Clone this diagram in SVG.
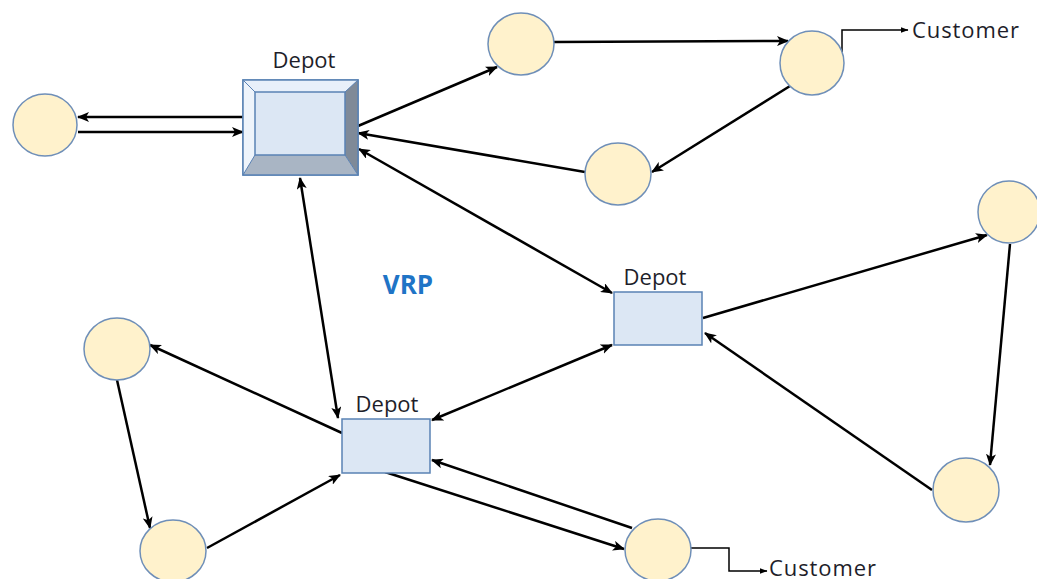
<svg xmlns="http://www.w3.org/2000/svg" width="1037" height="579" viewBox="0 0 1037 579">
  <defs>
    <marker id="ah" viewBox="0 0 12 10" refX="11" refY="5" markerWidth="12" markerHeight="10" markerUnits="userSpaceOnUse" orient="auto-start-reverse">
      <path d="M0,0 L12,5 L0,10 L3,5 Z" fill="#000"/>
    </marker>
    <marker id="ahs" viewBox="0 0 8 6" refX="7.5" refY="3" markerWidth="8" markerHeight="6" markerUnits="userSpaceOnUse" orient="auto">
      <path d="M0,0 L8,3 L0,6 Z" fill="#000"/>
    </marker>
    <style>
      .cust { fill: #fff2cc; stroke: #6f8fb8; stroke-width: 1.5; }
      .dep { fill: #dce7f4; stroke: #5a82b4; stroke-width: 1.5; }
      .lbl { font-family: "Open Sans", "Liberation Sans", sans-serif; font-size: 22px; fill: #1e1e2a; }
      .edge { stroke: #000; stroke-width: 2.5; fill: none; marker-end: url(#ah); }
      .both { marker-start: url(#ah); }
      .thin { stroke: #000; stroke-width: 1.5; fill: none; marker-end: url(#ahs); }
    </style>
  </defs>
  <rect width="1037" height="579" fill="#fff"/>

  <!-- connectors -->
  <g id="connectors">
    <line class="edge" x1="243" y1="117" x2="78" y2="117"/>
    <line class="edge" x1="78" y1="132" x2="243" y2="132"/>
    <line class="edge" x1="358" y1="126" x2="497" y2="67"/>
    <line class="edge" x1="554" y1="42" x2="788" y2="41"/>
    <line class="edge" x1="790" y1="86" x2="652" y2="172"/>
    <line class="edge" x1="585" y1="172" x2="358" y2="133"/>
    <line class="edge both" x1="359" y1="149" x2="612" y2="293"/>
    <line class="edge both" x1="300" y1="178" x2="338" y2="418"/>
    <line class="edge" x1="703" y1="318" x2="987" y2="235"/>
    <line class="edge" x1="1010" y1="244" x2="990" y2="465"/>
    <line class="edge" x1="932" y1="490" x2="705" y2="333"/>
    <line class="edge both" x1="432" y1="420" x2="612" y2="345"/>
    <line class="edge" x1="342" y1="433" x2="150" y2="345"/>
    <line class="edge" x1="117" y1="380" x2="150" y2="528"/>
    <line class="edge" x1="207" y1="548" x2="340" y2="475"/>
    <line class="edge" x1="385" y1="472" x2="624" y2="549"/>
    <line class="edge" x1="632" y1="528" x2="432" y2="460"/>
    <polyline class="thin" points="842,52 842,30 908,30"/>
    <polyline class="thin" points="690,548 729,548 729,571 767,571"/>
  </g>

  <!-- main depot (bevelled box) -->
  <g id="depot-main">
    <rect x="243" y="80" width="115" height="95" class="dep"/>
    <polygon points="243,80 358,80 345,92 255,92" fill="#e8f0fa"/>
    <polygon points="243,80 255,92 255,155 243,175" fill="#eef4fb"/>
    <polygon points="358,80 358,175 345,155 345,92" fill="#7f8a98"/>
    <polygon points="243,175 358,175 345,155 255,155" fill="#a9b5c4"/>
    <rect x="255" y="92" width="90" height="63" fill="#dce7f4" stroke="#5a82b4" stroke-width="1.5"/>
    <rect x="243" y="80" width="115" height="95" fill="none" stroke="#5a82b4" stroke-width="1.5"/>
    <line x1="243" y1="80" x2="255" y2="92" stroke="#5a82b4" stroke-width="1"/>
    <line x1="358" y1="80" x2="345" y2="92" stroke="#5a82b4" stroke-width="1"/>
    <line x1="243" y1="175" x2="255" y2="155" stroke="#5a82b4" stroke-width="1"/>
    <line x1="358" y1="175" x2="345" y2="155" stroke="#5a82b4" stroke-width="1"/>
    <text class="lbl" x="304" y="68" text-anchor="middle">Depot</text>
  </g>

  <g id="depot-east">
    <rect x="614" y="292" width="88" height="53" class="dep"/>
    <text class="lbl" x="655" y="285" text-anchor="middle">Depot</text>
  </g>

  <g id="depot-south">
    <rect x="342" y="419" width="88" height="54" class="dep"/>
    <text class="lbl" x="387" y="412" text-anchor="middle">Depot</text>
  </g>

  <!-- customers -->
  <g id="c1"><ellipse class="cust" cx="45" cy="125" rx="32" ry="31"/></g>
  <g id="c2"><ellipse class="cust" cx="521" cy="44" rx="33" ry="31"/></g>
  <g id="c3"><ellipse class="cust" cx="812" cy="63" rx="32" ry="32"/>
    <text class="lbl" x="912" y="38" textLength="107">Customer</text></g>
  <g id="c4"><ellipse class="cust" cx="618" cy="174" rx="33" ry="31"/></g>
  <g id="c5"><ellipse class="cust" cx="1009" cy="212" rx="31" ry="31"/></g>
  <g id="c6"><ellipse class="cust" cx="966" cy="490" rx="33" ry="32"/></g>
  <g id="c7"><ellipse class="cust" cx="117" cy="349" rx="33" ry="31"/></g>
  <g id="c8"><ellipse class="cust" cx="173" cy="551" rx="33" ry="31"/></g>
  <g id="c9"><ellipse class="cust" cx="658" cy="550" rx="33" ry="31"/>
    <text class="lbl" x="769" y="576" textLength="107">Customer</text></g>

  <g id="title">
    <text x="408" y="294" text-anchor="middle" font-family="'Open Sans', 'Liberation Sans', sans-serif" font-size="26" font-weight="bold" fill="#1f74c6">VRP</text>
  </g>
</svg>
